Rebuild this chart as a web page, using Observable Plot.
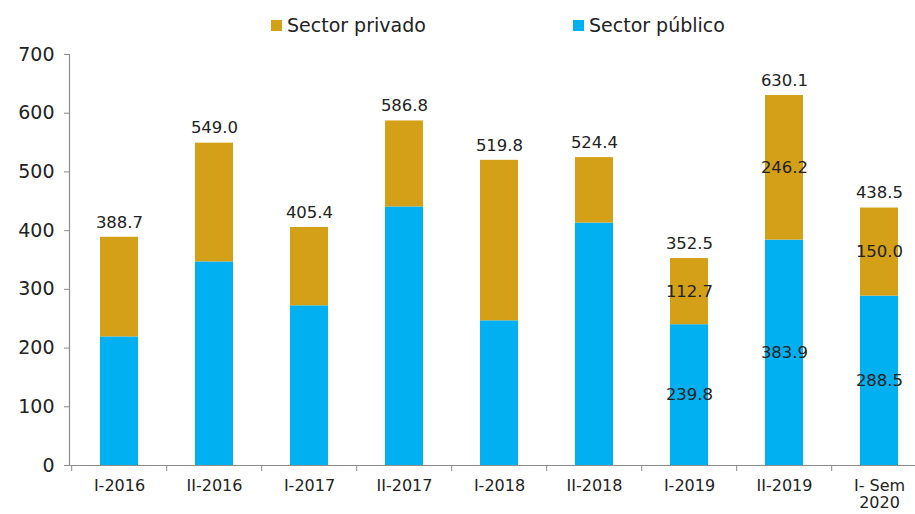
<!DOCTYPE html>
<html>
<head>
<meta charset="utf-8">
<script src="https://cdn.jsdelivr.net/npm/d3@7"></script>
<script src="https://cdn.jsdelivr.net/npm/@observablehq/plot@0.6"></script>
<style>
  html, body { margin: 0; padding: 0; background: #fff; }
  #wrap { position: relative; width: 915px; height: 514px; overflow: hidden; font-family: "DejaVu Sans", Verdana, sans-serif; }
  .leg { position: absolute; top: 14px; font-size: 19px; color: #222; display: flex; align-items: center; white-space: nowrap; }
  .sw { display: inline-block; width: 11px; height: 11px; margin-right: 5px; }
</style>
</head>
<body>
<div id="wrap">
  <div id="chart"></div>
  <div class="leg" style="left:271px"><span class="sw" style="background:#D4A017"></span>Sector privado</div>
  <div class="leg" style="left:573px"><span class="sw" style="background:#00B0F0"></span>Sector público</div>
</div>
<script>
const categories = ["I-2016", "II-2016", "I-2017", "II-2017", "I-2018", "II-2018", "I-2019", "II-2019", "I- Sem\n2020"];
const publico = [219.0, 346.8, 272.0, 440.4, 246.4, 413.0, 239.8, 383.9, 288.5];
const privado = [169.7, 202.2, 133.4, 146.4, 273.4, 111.4, 112.7, 246.2, 150.0];
const totales = [388.7, 549.0, 405.4, 586.8, 519.8, 524.4, 352.5, 630.1, 438.5];
const labeledSegments = ["I-2019", "II-2019", "I- Sem\n2020"];
const yTicks = [0, 100, 200, 300, 400, 500, 600, 700];

const GOLD = "#D4A017", BLUE = "#00B0F0";

const rows = categories.map((c, i) => ({
  cat: c, pub: publico[i], priv: privado[i], total: totales[i],
  top: publico[i] + privado[i]
}));
const segRows = rows.filter(d => labeledSegments.includes(d.cat));

const xRange = [69, 929.4];
const pInner = 0.6, pOuter = 0.3;
const step = (xRange[1] - xRange[0]) / (categories.length - pInner + 2 * pOuter);

const fmt = d3.format(".1f");

const chart = Plot.plot({
  width: 915,
  height: 514,
  marginTop: 54,
  marginBottom: 49,
  marginLeft: 69,
  marginRight: 0,
  style: { fontFamily: "'DejaVu Sans', Verdana, sans-serif", background: "transparent", color: "#222" },
  x: { domain: categories, range: xRange, paddingInner: pInner, paddingOuter: pOuter, label: null },
  y: { domain: [0, 700], label: null },
  marks: [
    Plot.barY(rows, { x: "cat", y1: 0, y2: "pub", fill: BLUE }),
    Plot.barY(rows, { x: "cat", y1: "pub", y2: "top", fill: GOLD }),
    Plot.ruleY([0], { stroke: "#8c8c8c", strokeWidth: 1.2 }),
    Plot.frame({ anchor: "left", stroke: "#8c8c8c", strokeWidth: 1.2 }),
    Plot.axisY({ ticks: yTicks, tickSize: 5, tickPadding: 10, fontSize: 19, stroke: "#8c8c8c", fill: "#222", tickFormat: d => d }),
    Plot.axisX({ tickSize: 0, tickPadding: 13, fontSize: 16, fill: "#222", lineHeight: 1.08 }),
    Plot.axisX({ tickSize: 6, tickFormat: null, dx: -step / 2, stroke: "#8c8c8c", text: null }),
    Plot.text(rows, { x: "cat", y: "top", text: d => fmt(d.total), dy: -15, fontSize: 16.5, fill: "#222" }),
    Plot.text(segRows, { x: "cat", y: d => d.pub / 2, text: d => fmt(d.pub), fontSize: 16.5, fill: "#222" }),
    Plot.text(segRows, { x: "cat", y: d => d.pub + d.priv / 2, text: d => fmt(d.priv), fontSize: 16.5, fill: "#222" })
  ]
});
document.getElementById("chart").appendChild(chart);
</script>
</body>
</html>
